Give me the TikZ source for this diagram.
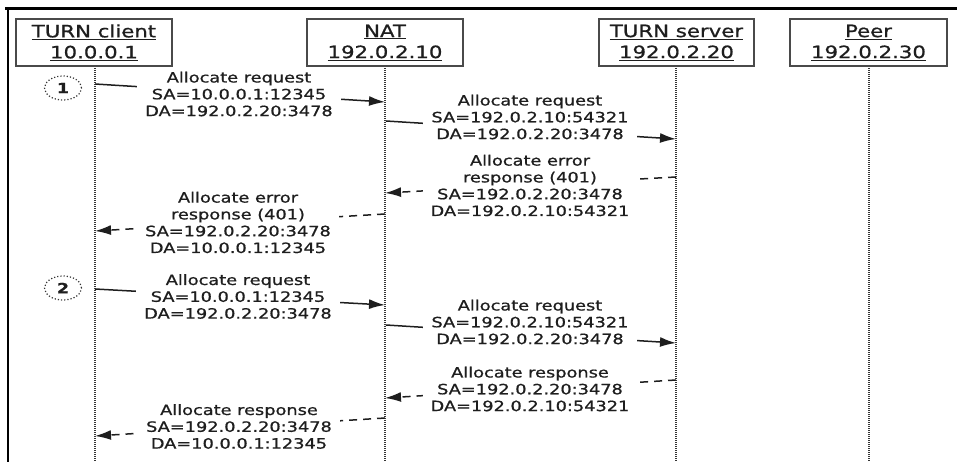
\documentclass[tikz,border=0pt]{standalone}
\usepackage{fontspec}
\setmainfont{DejaVu Sans}[FakeStretch=1.25, RawFeature={embolden=0.8}]
\usetikzlibrary{arrows.meta,shapes.geometric}
\definecolor{txt}{HTML}{1E1E1E}
\definecolor{boxc}{HTML}{4A4A4A}
\begin{document}
\begin{tikzpicture}[x=1pt,y=-1pt,
  actor/.style={draw=boxc, line width=1.8pt, fill=white, minimum height=47pt, align=center, font=\fontsize{17}{21}\selectfont, text=txt, inner sep=0pt},
  msg/.style={fill=white, align=center, font=\fontsize{14.2}{16.8}\selectfont, text=txt, inner xsep=8pt, inner ysep=1pt},
  life/.style={draw=txt!90, line width=1.8pt, dash pattern=on 1pt off 1pt},
  req/.style={draw=txt, line width=1.5pt, -{Latex[length=16pt,width=10pt]}},
  resp/.style={req, dash pattern=on 8pt off 6pt},
  stepnum/.style={draw=txt!90, dotted, line width=1.2pt, ellipse, minimum width=37pt, minimum height=24pt, font=\fontsize{14}{14}\selectfont\bfseries, text=txt, inner sep=0pt}
]
\path[use as bounding box] (0,0) rectangle (957,462);
% frame
\draw[line width=3pt] (5,8.5) -- (957,8.5);
\draw[line width=2pt] (8,8) -- (8,462);

% lifeline end points
\coordinate (cB) at (95,462);
\coordinate (nB) at (385,462);
\coordinate (sB) at (676,462);
\coordinate (pB) at (869,462);
\draw[life] (95,66) -- (cB);
\draw[life] (385,66) -- (nB);
\draw[life] (676,66) -- (sB);
\draw[life] (869,66) -- (pB);

% actors
\node[actor, minimum width=156pt] (client) at (94,42.5) {\underline{TURN client}\\\underline{10.0.0.1}};
\node[actor, minimum width=156pt] (nat) at (385,42.5) {\underline{NAT}\\\underline{192.0.2.10}};
\node[actor, minimum width=155pt] (server) at (676.5,42.5) {\underline{TURN server}\\\underline{192.0.2.20}};
\node[actor, minimum width=157pt] (peer) at (868.5,42.5) {\underline{Peer}\\\underline{192.0.2.30}};

% step markers
\node[stepnum] (one) at (63,88) {1};
\node[stepnum] (two) at (63,288) {2};

% message end points
\coordinate (m1a) at (95,84);   \coordinate (m1b) at (385,102);
\coordinate (m2a) at (386,121); \coordinate (m2b) at (676,139);
\coordinate (m3a) at (676,177); \coordinate (m3b) at (385,193);
\coordinate (m4a) at (385,214); \coordinate (m4b) at (95,231);
\coordinate (m5a) at (95,289);  \coordinate (m5b) at (385,305);
\coordinate (m6a) at (386,325); \coordinate (m6b) at (676,343);
\coordinate (m7a) at (676,380); \coordinate (m7b) at (385,398);
\coordinate (m8a) at (385,418); \coordinate (m8b) at (95,436);

\draw[req]  (m1a) -- (m1b);
\draw[req]  (m2a) -- (m2b);
\draw[resp] (m3a) -- (m3b);
\draw[resp] (m4a) -- (m4b);
\draw[req]  (m5a) -- (m5b);
\draw[req]  (m6a) -- (m6b);
\draw[resp] (m7a) -- (m7b);
\draw[resp] (m8a) -- (m8b);

% labels
\node[msg] (t1) at (239,94) {Allocate request\\SA=10.0.0.1:12345\\DA=192.0.2.20:3478};
\node[msg] (t2) at (530,117) {Allocate request\\SA=192.0.2.10:54321\\DA=192.0.2.20:3478};
\node[msg] (t3) at (530,185.5) {Allocate error\\response (401)\\SA=192.0.2.20:3478\\DA=192.0.2.10:54321};
\node[msg] (t4) at (238,222.5) {Allocate error\\response (401)\\SA=192.0.2.20:3478\\DA=10.0.0.1:12345};
\node[msg] (t5) at (238,296.5) {Allocate request\\SA=10.0.0.1:12345\\DA=192.0.2.20:3478};
\node[msg] (t6) at (530,322) {Allocate request\\SA=192.0.2.10:54321\\DA=192.0.2.20:3478};
\node[msg] (t7) at (530,389) {Allocate response\\SA=192.0.2.20:3478\\DA=192.0.2.10:54321};
\node[msg] (t8) at (239,426.5) {Allocate response\\SA=192.0.2.20:3478\\DA=10.0.0.1:12345};
\end{tikzpicture}
\end{document}
